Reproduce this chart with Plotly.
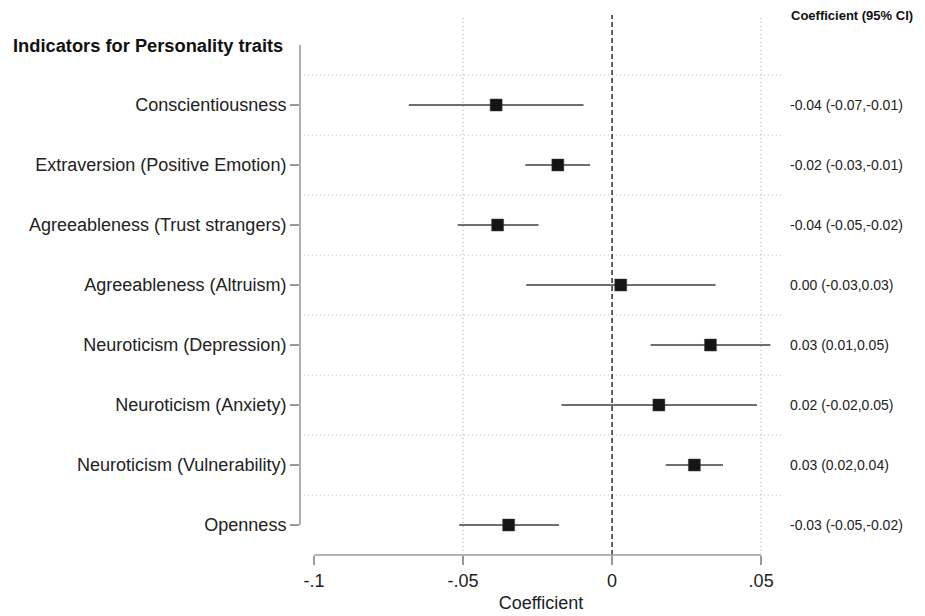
import plotly.graph_objects as go

header = "Indicators for Personality traits"
categories = [
    "Conscientiousness",
    "Extraversion (Positive Emotion)",
    "Agreeableness (Trust strangers)",
    "Agreeableness (Altruism)",
    "Neuroticism (Depression)",
    "Neuroticism (Anxiety)",
    "Neuroticism (Vulnerability)",
    "Openness",
]
coef = [-0.0389, -0.0182, -0.0384, 0.0029, 0.0330, 0.0157, 0.0276, -0.0347]
ci_low = [-0.0682, -0.0291, -0.0518, -0.0288, 0.0129, -0.0170, 0.0180, -0.0513]
ci_high = [-0.0096, -0.0074, -0.0247, 0.0347, 0.0531, 0.0486, 0.0372, -0.0178]
ci_text = [
    "-0.04 (-0.07,-0.01)",
    "-0.02 (-0.03,-0.01)",
    "-0.04 (-0.05,-0.02)",
    "0.00 (-0.03,0.03)",
    "0.03 (0.01,0.05)",
    "0.02 (-0.02,0.05)",
    "0.03 (0.02,0.04)",
    "-0.03 (-0.05,-0.02)",
]
right_header = "Coefficient (95% CI)"
xtick_vals = [-0.1, -0.05, 0, 0.05]
xtick_text = ["-.1", "-.05", "0", ".05"]
x_title = "Coefficient"

FONT = "Liberation Sans, Arial, sans-serif"
AXIS_COL = "#9a9a9a"
GRID_COL = "#b8b8b8"

rows = list(range(1, len(categories) + 1))

fig = go.Figure()

# CI lines
for r, lo, hi in zip(rows, ci_low, ci_high):
    fig.add_trace(go.Scatter(
        x=[lo, hi], y=[r, r], mode="lines",
        line=dict(color="#6e6e6e", width=2),
        showlegend=False, hoverinfo="skip",
    ))

fig.add_trace(go.Scatter(
    x=coef, y=rows, mode="markers",
    marker=dict(symbol="square", size=12, color="#151515",
                line=dict(color="#444444", width=0.5)),
    showlegend=False,
))

DOT = "1px,3px"
shapes = []
# horizontal dotted gridlines between rows
for r in range(len(categories)):
    shapes.append(dict(type="line", xref="paper", x0=0.008, x1=1,
                       yref="y", y0=r + 0.5, y1=r + 0.5,
                       line=dict(color=GRID_COL, width=1.2, dash=DOT),
                       layer="below"))
# vertical dotted gridlines
for v in xtick_vals[1:]:
    if v == 0:
        continue
    shapes.append(dict(type="line", xref="x", x0=v, x1=v,
                       yref="paper", y0=0, y1=1,
                       line=dict(color=GRID_COL, width=1.2, dash=DOT),
                       layer="below"))
# zero dashed line
shapes.append(dict(type="line", xref="x", x0=0, x1=0, yref="paper", y0=0, y1=1,
                   line=dict(color="#3a3a3a", width=1.6, dash="5px,3px"),
                   layer="below"))
# x axis line spanning tick range
shapes.append(dict(type="line", xref="x", x0=min(xtick_vals), x1=max(xtick_vals),
                   yref="paper", y0=0, y1=0,
                   line=dict(color=AXIS_COL, width=1.6)))
# y axis line spanning header to last row
shapes.append(dict(type="line", xref="paper", x0=0, x1=0,
                   yref="y", y0=0, y1=len(categories),
                   line=dict(color=AXIS_COL, width=1.6)))

annotations = [
    dict(text="<b>" + header + "</b>", xref="paper", x=-0.031, xanchor="right",
         yref="y", y=0, yanchor="middle", showarrow=False,
         font=dict(family=FONT, size=18.3, color="#111111")),
    dict(text="<b>" + right_header + "</b>", xref="paper", x=1.0135, xanchor="left",
         yref="paper", y=1, yanchor="middle", showarrow=False,
         font=dict(family=FONT, size=13, color="#111111")),
]
for r, t in zip(rows, ci_text):
    annotations.append(dict(text=t, xref="paper", x=1.0115, xanchor="left",
                            yref="y", y=r, yanchor="middle", showarrow=False,
                            font=dict(family=FONT, size=14, color="#222222")))

fig.update_layout(
    width=925, height=616,
    margin=dict(l=300, r=143, t=15, b=61),
    paper_bgcolor="white", plot_bgcolor="white",
    shapes=shapes, annotations=annotations,
    font=dict(family=FONT, size=18, color="#222222"),
    xaxis=dict(
        range=[-0.1047, 0.0570],
        tickvals=xtick_vals, ticktext=xtick_text,
        showgrid=False, zeroline=False, showline=False,
        ticks="outside", ticklen=9, tickwidth=1.6, tickcolor=AXIS_COL,
        tickfont=dict(family=FONT, size=18, color="#222222"),
        title=dict(text=x_title, font=dict(family=FONT, size=18, color="#222222"),
                   standoff=6),
        automargin=False,
    ),
    yaxis=dict(
        range=[len(categories) + 0.5, -0.5],
        tickvals=rows, ticktext=categories,
        showgrid=False, zeroline=False, showline=False,
        ticks="outside", ticklen=9, tickwidth=1.6, tickcolor=AXIS_COL,
        tickfont=dict(family=FONT, size=18, color="#222222"),
        automargin=False,
    ),
)

fig.write_html("out.html")
